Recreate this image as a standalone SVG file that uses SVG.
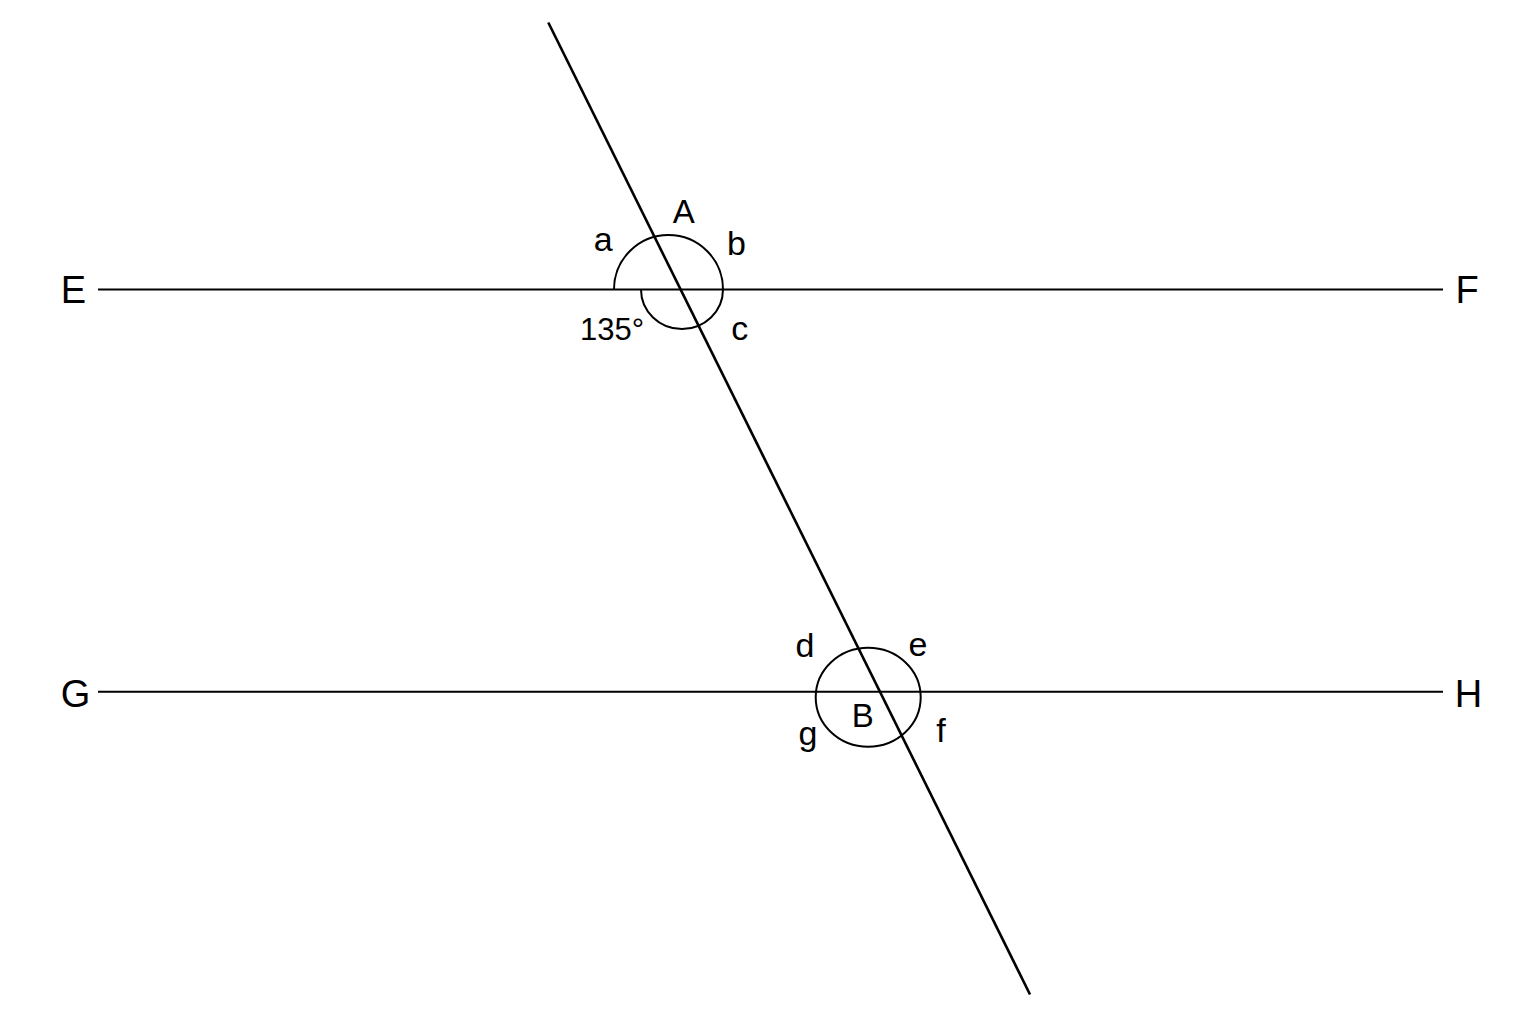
<svg xmlns="http://www.w3.org/2000/svg" width="1536" height="1024" viewBox="0 0 1536 1024">
<style>
.ln{stroke:#000;stroke-width:2;fill:none}
.tr{stroke:#000;stroke-width:2.6;fill:none}
.arc{stroke:#000;stroke-width:2;fill:none}
text{font-family:"Liberation Sans",Arial,sans-serif;fill:#000}
.big{font-size:38px;text-anchor:middle}
.pt{font-size:33px;text-anchor:middle}
.lc{font-size:34px;text-anchor:middle}
</style>
<rect width="1536" height="1024" fill="#fff"/>
<g id="connectors">
<line class="ln" x1="98" y1="289.5" x2="1443" y2="289.5"/>
<line class="ln" x1="98" y1="691.8" x2="1443" y2="691.8"/>
<line class="tr" x1="548.3" y1="22.5" x2="1030" y2="994.5"/>
</g>
<g id="angles">
<path class="arc" d="M614,289.5 A54.5,54.5 0 0 1 723,289.5"/>
<path class="arc" d="M723,289.5 A41,39.5 0 0 1 641,289.5"/>
<ellipse class="arc" cx="868.2" cy="697.2" rx="52.5" ry="49.5"/>
</g>
<g id="node-E"><text class="big" x="73.5" y="302.7">E</text></g>
<g id="node-F"><text class="big" x="1467" y="302.7">F</text></g>
<g id="node-G"><text class="big" x="75.5" y="706.7">G</text></g>
<g id="node-H"><text class="big" x="1468.5" y="706.7">H</text></g>
<g id="node-A"><text class="pt" x="683.7" y="222.5">A</text></g>
<g id="node-B"><text class="pt" x="862.7" y="726.5">B</text></g>
<g id="labels">
<text class="lc" x="603.3" y="250.7">a</text>
<text class="lc" x="736.4" y="255">b</text>
<text class="lc" x="739.7" y="340">c</text>
<text x="580" y="340" style="font-size:31px">135°</text>
<text class="lc" x="805" y="656.7">d</text>
<text class="lc" x="918" y="656">e</text>
<text class="lc" x="808" y="745">g</text>
<text class="lc" x="941" y="741.7">f</text>
</g>
</svg>
